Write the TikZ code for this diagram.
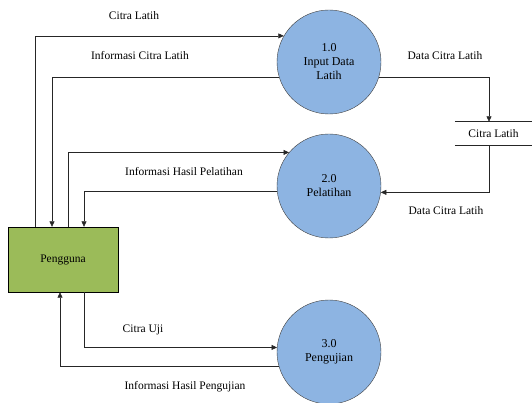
\documentclass[tikz,border=0pt]{standalone}
\usepackage{fontspec}
\setmainfont{Liberation Serif}
\usetikzlibrary{arrows.meta}
\definecolor{procfill}{HTML}{8DB4E2}
\definecolor{entfill}{HTML}{9BBB59}
\begin{document}
\begin{tikzpicture}[x=1pt,y=-1pt,
  proc/.style={circle,draw=black!75,fill=procfill,minimum size=104pt,inner sep=0pt,align=center,font=\fontsize{12}{14}\selectfont},
  ent/.style={draw=black,fill=entfill,minimum width=110pt,minimum height=65pt,inner sep=0pt,font=\fontsize{11.5}{13}\selectfont},
  lbl/.style={font=\fontsize{11.5}{13}\selectfont,inner sep=0pt},
  flow/.style={draw=black!85,line width=0.6pt,-{Triangle[length=5.5pt,width=5pt]}},
  plain/.style={draw=black!85,line width=0.6pt}]
\useasboundingbox (0,0) rectangle (532,403);
\node[proc] (c1) at (329,62) {1.0\\Input Data\\Latih};
\node[proc] (c2) at (329,186) {2.0\\Pelatihan};
\node[proc] (c3) at (329,352) {3.0\\Pengujian};
\node[ent] (pg) at (63,259.5) {Pengguna};
\node[lbl,minimum width=77pt,minimum height=23pt] (ds) at (493.5,133.5) {Citra Latih};
\draw[plain] (ds.north west) -- (ds.north east);
\draw[plain] (ds.south west) -- (ds.south east);
\coordinate (xa) at (35,0);
\coordinate (xb) at (52,0);
\coordinate (xc) at (68,0);
\coordinate (xd) at (84,0);
\coordinate (xe) at (60,0);
\coordinate (xs) at (489,0);
% flows
\draw[flow] (pg.north -| xa) |- (c1.150);
\draw[flow] (c1.197) -| (pg.north -| xb);
\draw[flow] (pg.north -| xc) |- (c2.140.6);
\draw[flow] (c2.186.6) -| (pg.north -| xd);
\draw[flow] (c1.343) -| (ds.north -| xs);
\draw[flow] (ds.south -| xs) |- (c2.353.4);
\draw[flow] (pg.south -| xd) |- (c3.175.6);
\draw[flow] (c3.196.8) -| (pg.south -| xe);
% labels
\node[lbl] (l1) at (134,16) {Citra Latih};
\node[lbl] (l2) at (140,56) {Informasi Citra Latih};
\node[lbl] (l3) at (184,172) {Informasi Hasil Pelatihan};
\node[lbl] (l4) at (445,56) {Data Citra Latih};
\node[lbl] (l5) at (446,211) {Data Citra Latih};
\node[lbl] (l6) at (143,330) {Citra Uji};
\node[lbl] (l7) at (185,387) {Informasi Hasil Pengujian};
\end{tikzpicture}
\end{document}
